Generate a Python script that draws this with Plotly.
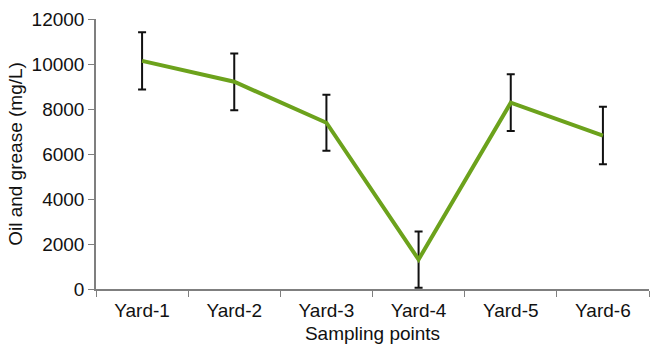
import plotly.graph_objects as go

# Oil and grease concentration at each sampling point
sampling_points = ["Yard-1", "Yard-2", "Yard-3", "Yard-4", "Yard-5", "Yard-6"]
oil_grease = [10140, 9210, 7390, 1310, 8280, 6820]
std_err = [1270, 1260, 1245, 1250, 1260, 1280]
y_ticks = [0, 2000, 4000, 6000, 8000, 10000, 12000]

font = "Liberation Sans, Arial, Helvetica, sans-serif"

fig = go.Figure(
    go.Scatter(
        x=sampling_points,
        y=oil_grease,
        mode="lines",
        line=dict(color="#6ca21c", width=4),
        error_y=dict(
            type="data",
            array=std_err,
            visible=True,
            color="#111111",
            thickness=2,
            width=4,
        ),
        showlegend=False,
    )
)

fig.update_layout(
    width=650,
    height=345,
    margin=dict(l=96, r=1, t=19, b=56),
    paper_bgcolor="white",
    plot_bgcolor="white",
    font=dict(family=font, size=19, color="#111111"),
)

fig.update_xaxes(
    type="category",
    range=[-0.5, 5.5],
    showline=True,
    linecolor="#7f7f7f",
    linewidth=1.5,
    ticks="outside",
    tickson="boundaries",
    ticklen=6,
    tickcolor="#7f7f7f",
    ticklabelstandoff=3,
    showgrid=False,
    title=dict(text="Sampling points", standoff=7, font=dict(size=19)),
    tickfont=dict(size=19),
)

fig.update_yaxes(
    range=[0, 12000],
    tickvals=y_ticks,
    ticktext=[str(v) for v in y_ticks],
    showline=True,
    linecolor="#7f7f7f",
    linewidth=1.5,
    ticks="outside",
    ticklen=6,
    tickcolor="#7f7f7f",
    showgrid=False,
    zeroline=False,
    title=dict(text="Oil and grease (mg/L)", standoff=4, font=dict(size=19)),
    tickfont=dict(size=19),
)

fig.write_html("out.html")
